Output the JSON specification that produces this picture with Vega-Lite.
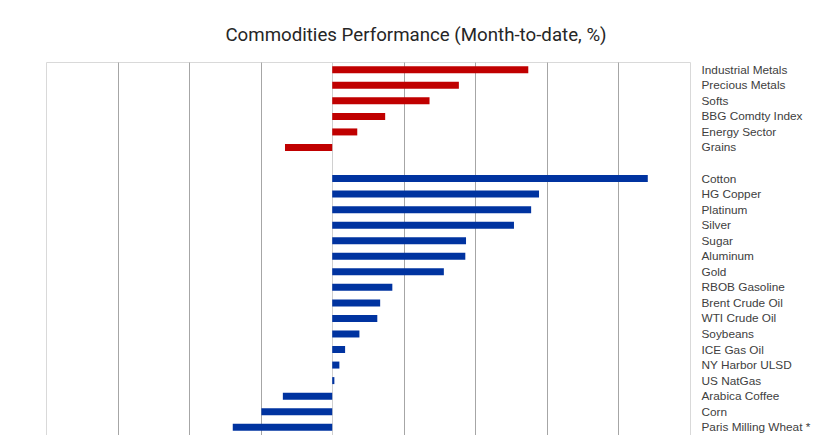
{
  "$schema": "https://vega.github.io/schema/vega-lite/v6.json",
  "autosize": "none",
  "width": 644,
  "height": 373,
  "padding": {"left": 46, "top": 62, "right": 136, "bottom": 0},
  "background": "white",
  "title": {
    "text": "Commodities Performance (Month-to-date, %)",
    "font": "Roboto",
    "fontSize": 18.7,
    "fontWeight": "normal",
    "color": "#262626",
    "anchor": "middle",
    "dx": 48,
    "baseline": "alphabetic",
    "offset": 2
  },
  "data": {
    "values": [
      {"name": "Industrial Metals", "value": 2.74, "group": "Sector"},
      {"name": "Precious Metals", "value": 1.77, "group": "Sector"},
      {"name": "Softs", "value": 1.36, "group": "Sector"},
      {"name": "BBG Comdty Index", "value": 0.74, "group": "Sector"},
      {"name": "Energy Sector", "value": 0.35, "group": "Sector"},
      {"name": "Grains", "value": -0.66, "group": "Sector"},
      {"name": "Cotton", "value": 4.41, "group": "Single"},
      {"name": "HG Copper", "value": 2.89, "group": "Single"},
      {"name": "Platinum", "value": 2.78, "group": "Single"},
      {"name": "Silver", "value": 2.54, "group": "Single"},
      {"name": "Sugar", "value": 1.87, "group": "Single"},
      {"name": "Aluminum", "value": 1.86, "group": "Single"},
      {"name": "Gold", "value": 1.56, "group": "Single"},
      {"name": "RBOB Gasoline", "value": 0.84, "group": "Single"},
      {"name": "Brent Crude Oil", "value": 0.67, "group": "Single"},
      {"name": "WTI Crude Oil", "value": 0.63, "group": "Single"},
      {"name": "Soybeans", "value": 0.38, "group": "Single"},
      {"name": "ICE Gas Oil", "value": 0.18, "group": "Single"},
      {"name": "NY Harbor ULSD", "value": 0.1, "group": "Single"},
      {"name": "US NatGas", "value": 0.03, "group": "Single"},
      {"name": "Arabica Coffee", "value": -0.69, "group": "Single"},
      {"name": "Corn", "value": -0.99, "group": "Single"},
      {"name": "Paris Milling Wheat *", "value": -1.39, "group": "Single"}
    ]
  },
  "mark": {"type": "bar", "height": 7},
  "encoding": {
    "y": {
      "field": "name",
      "type": "nominal",
      "scale": {
        "domain": ["Industrial Metals", "Precious Metals", "Softs", "BBG Comdty Index", "Energy Sector", "Grains", " ", "Cotton", "HG Copper", "Platinum", "Silver", "Sugar", "Aluminum", "Gold", "RBOB Gasoline", "Brent Crude Oil", "WTI Crude Oil", "Soybeans", "ICE Gas Oil", "NY Harbor ULSD", "US NatGas", "Arabica Coffee", "Corn", "Paris Milling Wheat *"],
        "paddingInner": 0,
        "paddingOuter": 0
      },
      "axis": {
        "orient": "right",
        "title": null,
        "domain": false,
        "ticks": false,
        "tickSize": 0,
        "labelPadding": 11,
        "labelFont": "Liberation Sans",
        "labelFontSize": 11.8,
        "labelColor": "#404040",
        "labelAlign": "left",
        "grid": false
      }
    },
    "x": {
      "field": "value",
      "type": "quantitative",
      "scale": {"domain": [-4, 5], "nice": false, "zero": false},
      "axis": {
        "title": null,
        "labels": false,
        "ticks": false,
        "domain": false,
        "values": [-3, -2, -1, 0, 1, 2, 3, 4],
        "grid": true,
        "gridColor": {"condition": {"test": "datum.value === 0", "value": "#d0d0d0"}, "value": "#a6a6a6"},
        "gridWidth": 1,
        "gridOpacity": 1
      }
    },
    "color": {
      "field": "group",
      "type": "nominal",
      "scale": {"domain": ["Sector", "Single"], "range": ["#C00000", "#0033A0"]},
      "legend": null
    }
  },
  "config": {
    "view": {"stroke": "#d9d9d9", "strokeWidth": 1}
  }
}
